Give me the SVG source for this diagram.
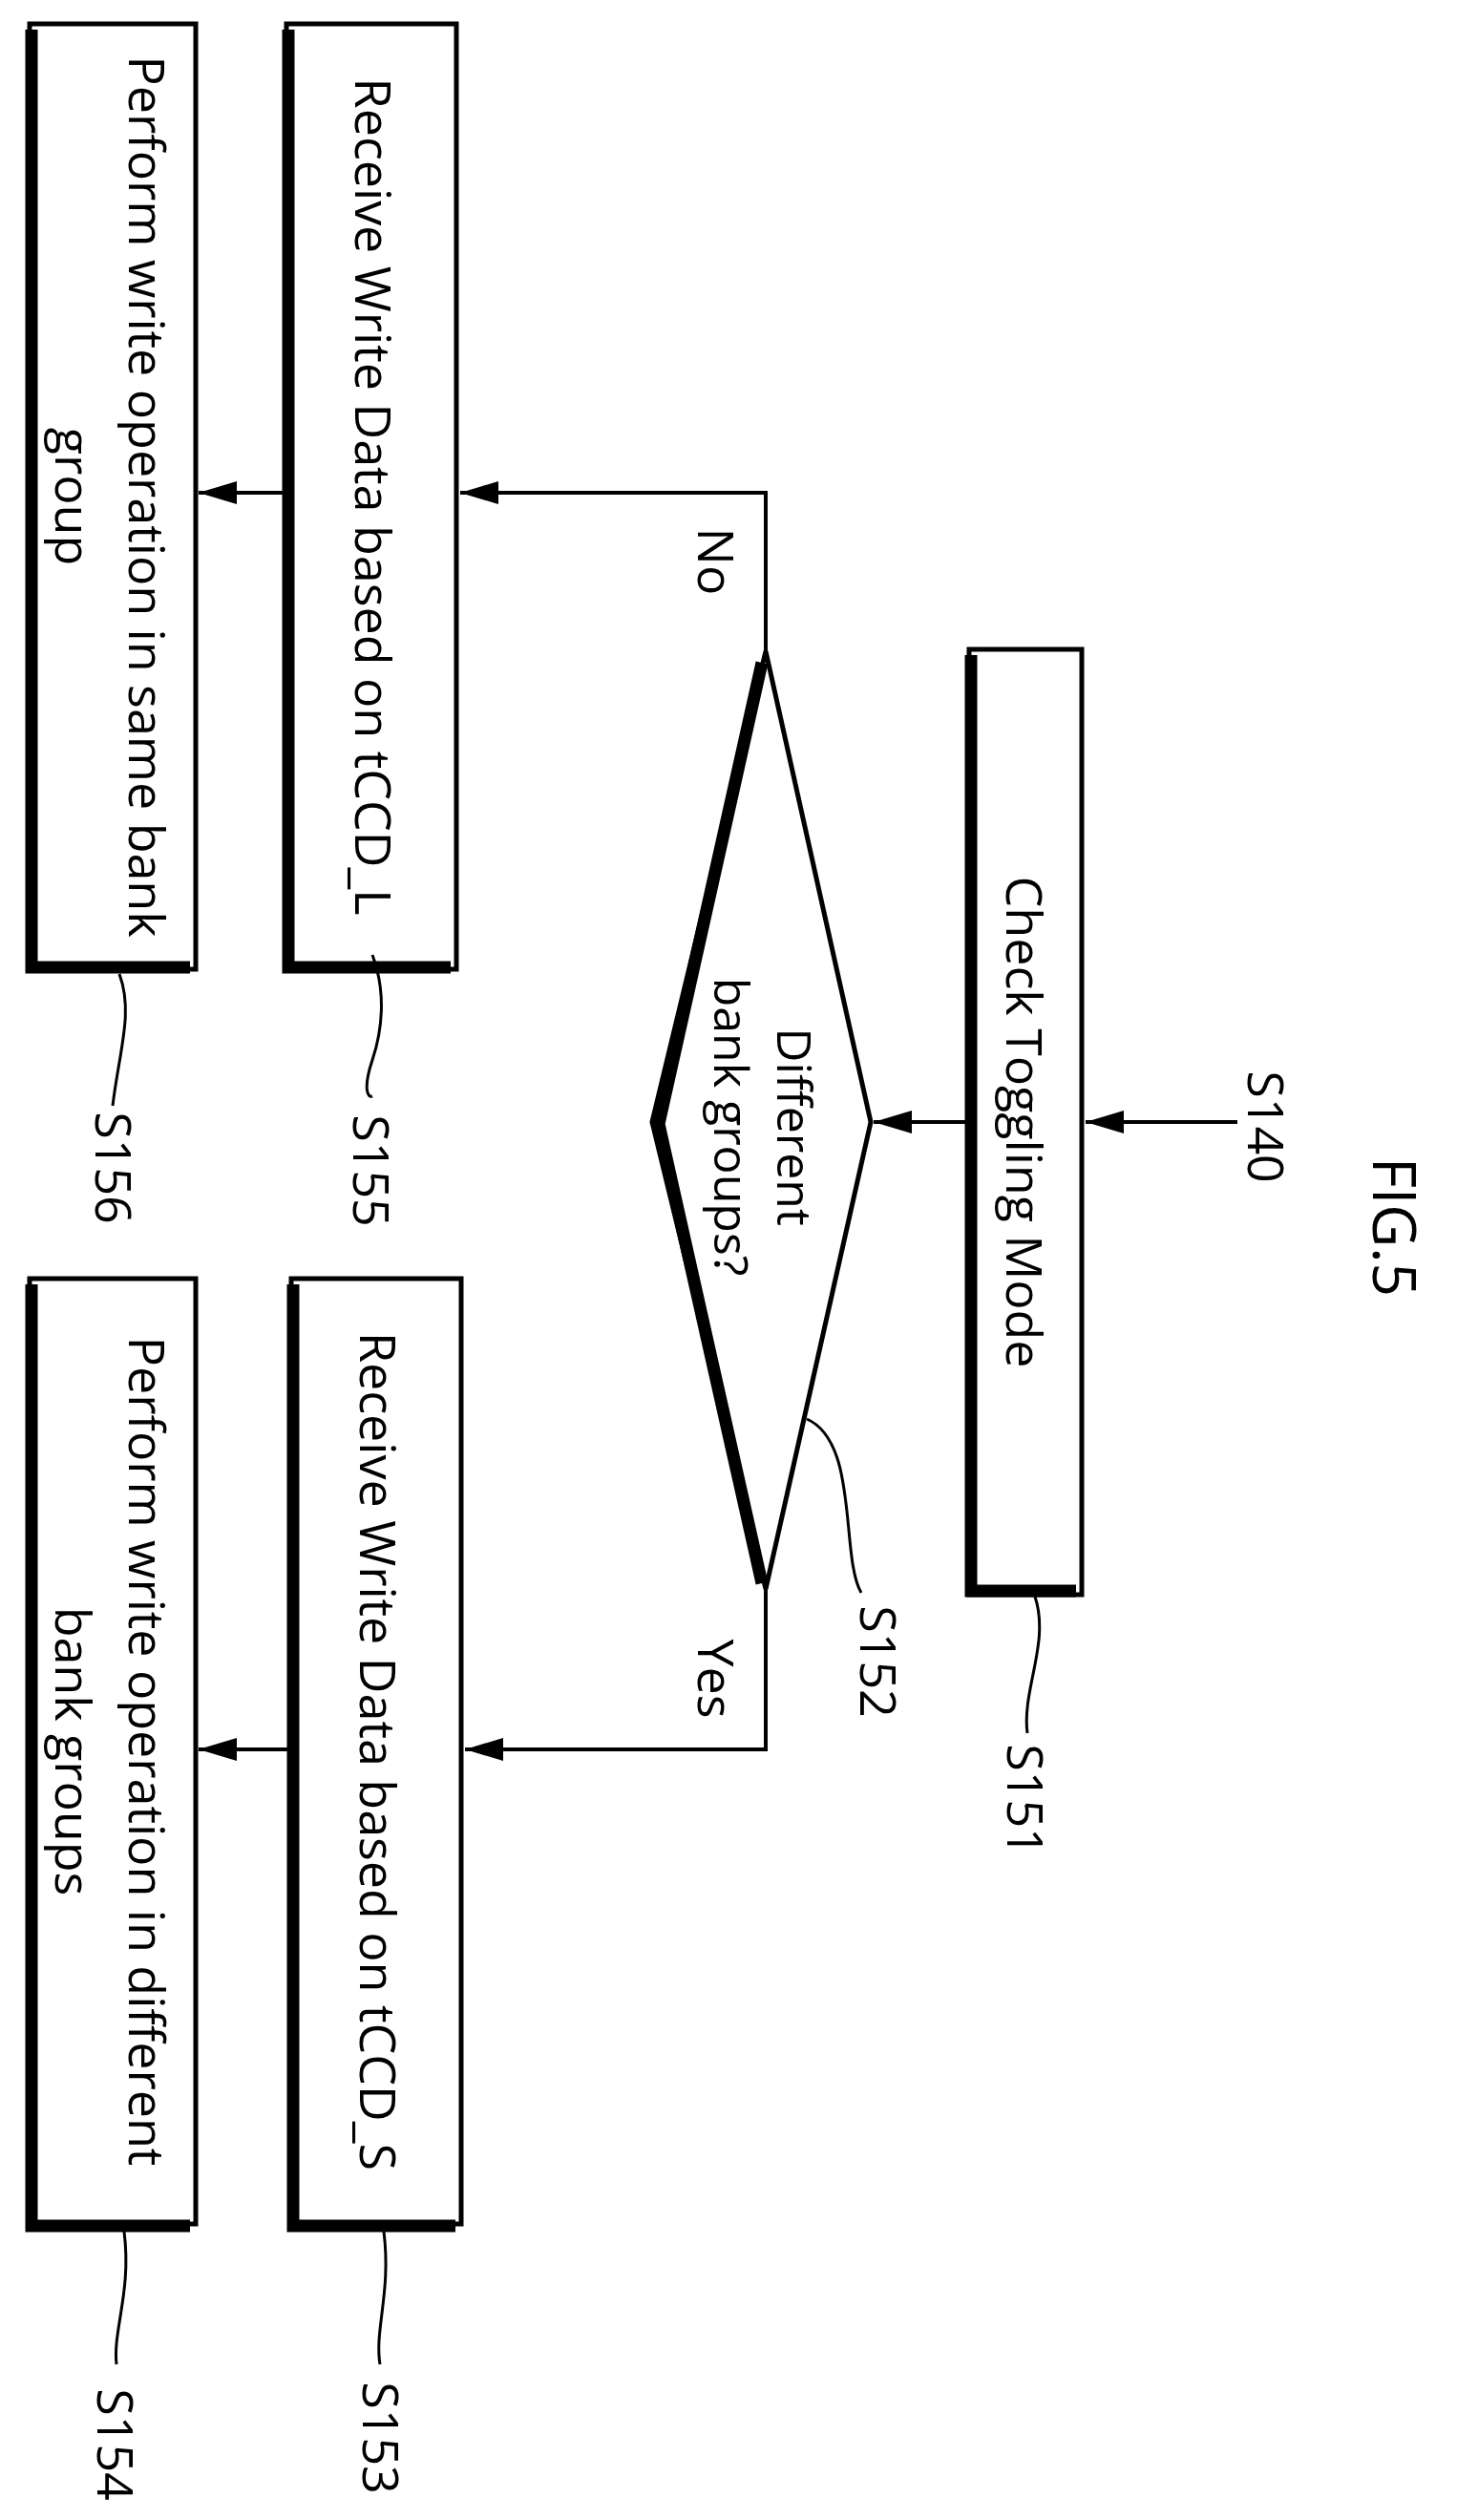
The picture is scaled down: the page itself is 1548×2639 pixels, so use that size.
<svg xmlns="http://www.w3.org/2000/svg" width="1548" height="2639" viewBox="0 0 1548 2639">
<style>
.b{fill:#fff;stroke:#000;stroke-width:5}
.sh{fill:none;stroke:#000;stroke-width:13}
.t{font-family:"Open Sans","Noto Sans",sans-serif;font-size:52px;fill:#000;text-anchor:middle;dominant-baseline:central}
.l{fill:none;stroke:#000;stroke-width:4}
.c{fill:none;stroke:#000;stroke-width:3}
</style>
<defs><marker id="a" markerWidth="12" markerHeight="8" refX="11" refY="4" orient="auto" markerUnits="userSpaceOnUse" viewBox="0 0 12 8"><path d="M0,0L12,4L0,8z" fill="#000"/></marker>
<marker id="ah" viewBox="0 0 40 24" refX="40" refY="12" markerWidth="40" markerHeight="24" orient="auto" markerUnits="userSpaceOnUse"><path d="M0,0L40,12L0,24z" fill="#000"/></marker></defs>
<text class="t" style="font-size:62px" transform="translate(1462,1285) rotate(90)">FIG.5</text>
<g id="s151"><rect class="b" x="1015" y="680" width="118" height="990"/><polyline class="sh" points="1017,686 1017,1666 1127,1666"/><text class="t" transform="translate(1074,1175) rotate(90)">Check Toggling Mode</text></g>
<g id="s152"><polygon class="b" points="802,682 912,1175 802,1664 683,1175"/><polyline class="sh" points="798,694 690,1177 798,1658"/><text class="t" style="font-size:50px" transform="translate(833,1180) rotate(90)">Different</text><text class="t" style="font-size:50px" transform="translate(767,1180) rotate(90)">bank groups?</text></g>
<g id="s155"><rect class="b" x="300" y="25" width="178" height="990"/><polyline class="sh" points="302,31 302,1013 472,1013"/><text class="t" transform="translate(392,520) rotate(90)">Receive Write Data based on tCCD_L</text></g>
<g id="s156"><rect class="b" x="31" y="25" width="174" height="990"/><polyline class="sh" points="33,31 33,1013 199,1013"/><text class="t" transform="translate(155,520) rotate(90)">Perform write operation in same bank</text><text class="t" transform="translate(78,520) rotate(90)">group</text></g>
<g id="s153"><rect class="b" x="305" y="1339" width="178" height="990"/><polyline class="sh" points="307,1345 307,2331 477,2331"/><text class="t" transform="translate(397,1834) rotate(90)">Receive Write Data based on tCCD_S</text></g>
<g id="s154"><rect class="b" x="31" y="1339" width="174" height="990"/><polyline class="sh" points="33,1345 33,2331 199,2331"/><text class="t" transform="translate(155,1834) rotate(90)">Perform write operation in different</text><text class="t" transform="translate(78,1834) rotate(90)">bank groups</text></g>
<g id="connectors">
<line class="l" x1="1296" y1="1175" x2="1137" y2="1175" marker-end="url(#ah)"/>
<line class="l" x1="1011" y1="1175" x2="915" y2="1175" marker-end="url(#ah)"/>
<polyline class="l" points="802,682 802,516 482,516" marker-end="url(#ah)"/>
<polyline class="l" points="802,1664 802,1832 487,1832" marker-end="url(#ah)"/>
<line class="l" x1="300" y1="516" x2="208" y2="516" marker-end="url(#ah)"/>
<line class="l" x1="305" y1="1832" x2="208" y2="1832" marker-end="url(#ah)"/>
<text class="t" transform="translate(751,588) rotate(90)">No</text>
<text class="t" transform="translate(751,1758) rotate(90)">Yes</text>
<path class="c" d="M1084,1672 C1100,1720 1070,1770 1076,1815"/>
<path class="c" d="M845,1486 C900,1510 880,1630 902,1668"/>
<path class="c" d="M390,1000 C405,1040 400,1080 390,1110 C380,1140 385,1150 390,1148"/>
<path class="c" d="M125,1020 C140,1060 125,1100 118,1158"/>
<path class="c" d="M402,2337 C410,2400 392,2440 398,2476"/>
<path class="c" d="M130,2337 C138,2400 118,2440 122,2476"/>
</g>
<g class="labels">
<text class="t" transform="translate(1327,1180) rotate(90)">S140</text>
<text class="t" transform="translate(1075,1885) rotate(90)">S151</text>
<text class="t" transform="translate(921,1740) rotate(90)">S152</text>
<text class="t" transform="translate(390,1226) rotate(90)">S155</text>
<text class="t" transform="translate(120,1223) rotate(90)">S156</text>
<text class="t" transform="translate(400,2553) rotate(90)">S153</text>
<text class="t" transform="translate(122,2560) rotate(90)">S154</text>
</g>
</svg>
